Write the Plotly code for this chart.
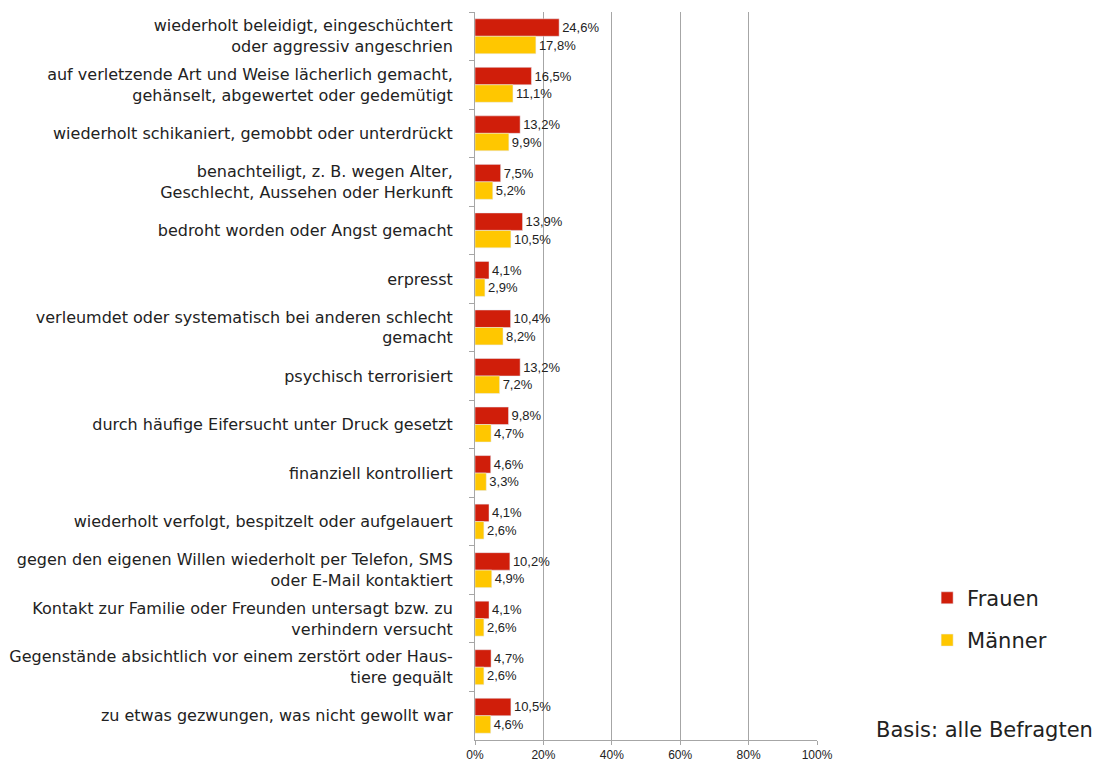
import plotly.graph_objects as go

categories = [
    "wiederholt beleidigt, eingeschüchtert<br>oder aggressiv angeschrien",
    "auf verletzende Art und Weise lächerlich gemacht,<br>gehänselt, abgewertet oder gedemütigt",
    "wiederholt schikaniert, gemobbt oder unterdrückt",
    "benachteiligt, z. B. wegen Alter,<br>Geschlecht, Aussehen oder Herkunft",
    "bedroht worden oder Angst gemacht",
    "erpresst",
    "verleumdet oder systematisch bei anderen schlecht<br>gemacht",
    "psychisch terrorisiert",
    "durch häufige Eifersucht unter Druck gesetzt",
    "finanziell kontrolliert",
    "wiederholt verfolgt, bespitzelt oder aufgelauert",
    "gegen den eigenen Willen wiederholt per Telefon, SMS<br>oder E-Mail kontaktiert",
    "Kontakt zur Familie oder Freunden untersagt bzw. zu<br>verhindern versucht",
    "Gegenstände absichtlich vor einem zerstört oder Haus-<br>tiere gequält",
    "zu etwas gezwungen, was nicht gewollt war",
]
frauen = [24.6, 16.5, 13.2, 7.5, 13.9, 4.1, 10.4, 13.2, 9.8, 4.6, 4.1, 10.2, 4.1, 4.7, 10.5]
maenner = [17.8, 11.1, 9.9, 5.2, 10.5, 2.9, 8.2, 7.2, 4.7, 3.3, 2.6, 4.9, 2.6, 2.6, 4.6]
series_names = ["Frauen", "Männer"]
tick_vals = [0, 20, 40, 60, 80, 100]
tick_text = ["0%", "20%", "40%", "60%", "80%", "100%"]

def fmt(v):
    return f"{v:.1f}%".replace(".", ",")

label_font = dict(family="Liberation Sans, Arial", size=13, color="#222222")

fig = go.Figure()
fig.add_trace(go.Bar(
    y=categories, x=frauen, orientation="h", name=series_names[0],
    marker=dict(color="#D01E0A"), legendgroup="f",
    text=[fmt(v) for v in frauen], textposition="outside",
    textfont=label_font, cliponaxis=False,
))
fig.add_trace(go.Bar(
    y=categories, x=maenner, orientation="h", name=series_names[1],
    marker=dict(color="#FFC700"), legendgroup="m",
    text=[fmt(v) for v in maenner], textposition="outside",
    textfont=label_font, cliponaxis=False,
))

fig.update_layout(
    width=1098, height=762,
    margin=dict(l=475, r=281, t=12, b=22, autoexpand=False),
    plot_bgcolor="white", paper_bgcolor="white",
    barmode="group", bargap=0.28, bargroupgap=0,
    font=dict(family="DejaVu Sans, Verdana", size=16, color="#222222"),
    legend=dict(
        x=1.322, y=0.223, xanchor="left", yanchor="top",
        font=dict(family="DejaVu Sans, Verdana", size=21, color="#222222"),
        tracegroupgap=12, traceorder="grouped",
        itemwidth=30,
    ),
    annotations=[dict(
        text="Basis: alle Befragten", xref="paper", yref="paper",
        x=1.813, y=0.014, xanchor="right", yanchor="middle", showarrow=False,
        font=dict(family="DejaVu Sans, Verdana", size=21, color="#222222"),
    )],
)
fig.update_xaxes(
    range=[0, 100], tickmode="array", tickvals=tick_vals, ticktext=tick_text,
    showgrid=True, gridcolor="#A6A6A6", gridwidth=1,
    showline=True, linecolor="#A6A6A6", linewidth=1,
    ticks="outside", ticklen=4, tickcolor="#A6A6A6",
    tickfont=dict(family="Liberation Sans, Arial", size=12, color="#222222"),
    ticklabelstandoff=0,
    zeroline=False, fixedrange=True,
)
fig.update_yaxes(
    autorange="reversed", type="category",
    showline=True, linecolor="#A6A6A6", linewidth=1,
    ticks="outside", ticklen=5, tickcolor="#A6A6A6", tickson="boundaries",
    tickfont=dict(family="DejaVu Sans, Verdana", size=16, color="#222222"),
    showgrid=False, ticklabelstandoff=18,
)

fig.write_html("out.html", config={"displayModeBar": False})

with open("out.html", encoding="utf-8") as f:
    html = f.read()
html = html.replace("<head>", "<head><style>html,body{margin:0;padding:0;overflow:hidden;}</style>", 1)
with open("out.html", "w", encoding="utf-8") as f:
    f.write(html)
